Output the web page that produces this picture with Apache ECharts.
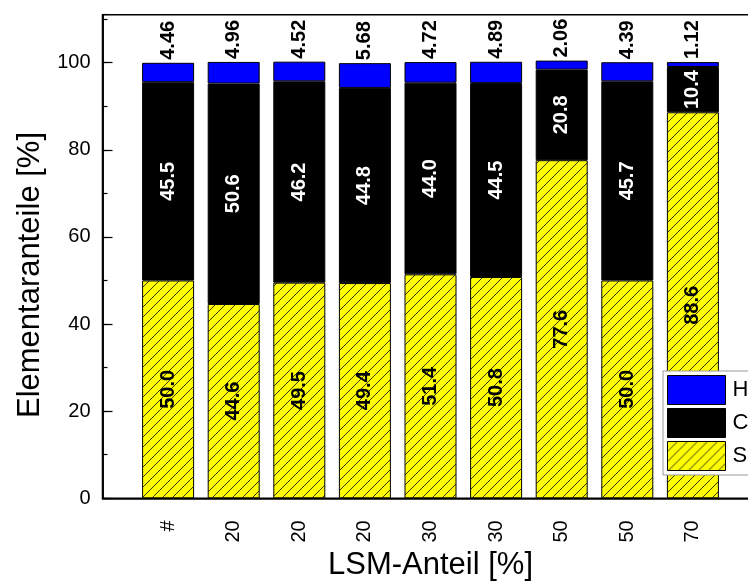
<!DOCTYPE html>
<html>
<head>
<meta charset="utf-8">
<script src="https://cdn.jsdelivr.net/npm/echarts@6/dist/echarts.min.js"></script>
<style>html,body{margin:0;padding:0;background:#fff;}#c{width:748px;height:586px;}</style>
</head>
<body>
<div id="c"></div>
<script>
const categories = ['#', '20', '20', '20', '30', '30', '50', '50', '70'];
const sValues = [50.0, 44.6, 49.5, 49.4, 51.4, 50.8, 77.6, 50.0, 88.6];
const cValues = [45.5, 50.6, 46.2, 44.8, 44.0, 44.5, 20.8, 45.7, 10.4];
const hValues = [4.46, 4.96, 4.52, 5.68, 4.72, 4.89, 2.06, 4.39, 1.12];
const yTicks = [0, 20, 40, 60, 80, 100];

const FONT = '"Liberation Sans", Arial, sans-serif';
function hatch() {
  const n = 10;
  const c = document.createElement('canvas');
  c.width = n; c.height = n;
  const g = c.getContext('2d');
  g.fillStyle = '#ffff00';
  g.fillRect(0, 0, n, n);
  g.strokeStyle = '#222';
  g.lineWidth = 0.9;
  g.beginPath();
  g.moveTo(-1, n + 1); g.lineTo(n + 1, -1);
  g.stroke();
  return c;
}
const pattern = { image: hatch(), repeat: 'repeat' };

// pad categories so bars sit at positions 1..9 on a 0..10 axis
const xData = [''].concat(categories, ['']);
const pad = arr => [null].concat(arr, [null]);

const chart = echarts.init(document.getElementById('c'), null, { renderer: 'canvas' });
const labelBase = { show: true, rotate: 90, fontFamily: FONT, fontSize: 20, fontWeight: 'bold' };

chart.setOption({
  animation: false,
  textStyle: { fontFamily: FONT },
  grid: {
    left: 102.5, right: -10.5, top: 14.7, bottom: 87.7,
    outerBoundsMode: 'none', containLabel: false,
    show: true, borderColor: '#000', borderWidth: 1.5, backgroundColor: 'transparent'
  },
  legend: {
    orient: 'vertical', left: 663, top: 371,
    data: ['H', 'C', 'S'],
    icon: 'rect',
    itemWidth: 58, itemHeight: 29, itemGap: 3,
    padding: [4, 40, 4, 4],
    backgroundColor: '#fff',
    borderColor: '#999', borderWidth: 1,
    textStyle: { fontSize: 22, color: '#000', fontFamily: FONT, padding: [0, 0, 0, 2] },
    itemStyle: { borderColor: '#000', borderWidth: 1 }
  },
  graphic: [
    {
      type: 'text', x: 30, y: 275, rotation: Math.PI / 2,
      style: { text: 'Elementaranteile [%]', font: '31px "Liberation Sans", Arial, sans-serif', fill: '#000', align: 'center', verticalAlign: 'middle' }
    }
  ],
  xAxis: {
    type: 'category', data: xData, boundaryGap: false,
    axisLine: { lineStyle: { color: '#000', width: 1.5 } },
    axisTick: { show: false },
    axisLabel: { rotate: 90, fontSize: 20, color: '#000', margin: 22, fontFamily: FONT, interval: 0 },
    name: 'LSM-Anteil [%]', nameLocation: 'middle', nameGap: 51,
    nameTextStyle: { fontSize: 31, color: '#000', fontFamily: FONT }
  },
  yAxis: [
    {
      type: 'value', min: 0, max: 111, interval: 10,
      axisLine: { show: true, lineStyle: { color: '#000', width: 1.5 } },
      axisTick: { show: true, inside: true, length: 5, lineStyle: { color: '#000', width: 1.2 } },
      axisLabel: { show: false }, splitLine: { show: false }
    },
    {
      type: 'value', min: 0, max: 111, interval: 20, position: 'left',
      axisLine: { show: true, lineStyle: { color: '#000', width: 1.5 } },
      axisTick: { show: true, inside: true, length: 10, lineStyle: { color: '#000', width: 1.2 } },
      axisLabel: {
        fontSize: 20, color: '#000', margin: 12, fontFamily: FONT, showMaxLabel: false,
        formatter: v => (yTicks.indexOf(v) >= 0 ? String(v) : '')
      },
      splitLine: { show: false }
    }
  ],
  series: [
    {
      name: 'S', type: 'bar', stack: 'a', yAxisIndex: 1, barWidth: 52,
      data: pad(sValues),
      itemStyle: { color: pattern, borderColor: '#000', borderWidth: 1 },
      label: Object.assign({}, labelBase, { position: 'inside', color: '#000', formatter: p => p.value.toFixed(1) })
    },
    {
      name: 'C', type: 'bar', stack: 'a', yAxisIndex: 1, barWidth: 52,
      data: pad(cValues),
      itemStyle: { color: '#000', borderColor: '#000', borderWidth: 1 },
      label: Object.assign({}, labelBase, { position: 'inside', color: '#fff', formatter: p => p.value.toFixed(1) })
    },
    {
      name: 'H', type: 'bar', stack: 'a', yAxisIndex: 1, barWidth: 52,
      data: pad(hValues),
      itemStyle: { color: '#0000ff', borderColor: '#000', borderWidth: 1 },
      label: Object.assign({}, labelBase, { position: 'top', distance: 3, align: 'left', verticalAlign: 'middle', color: '#000', formatter: p => p.value.toFixed(2) })
    }
  ]
});
</script>
</body>
</html>
